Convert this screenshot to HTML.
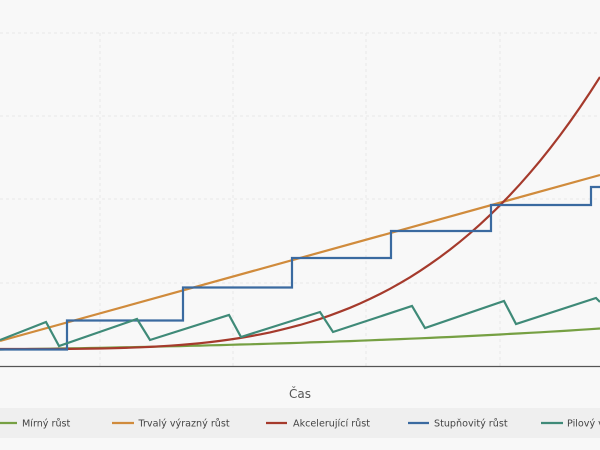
<!DOCTYPE html>
<html><head><meta charset="utf-8"><style>
html,body{margin:0;padding:0;background:#f8f8f8;}
svg{display:block;font-family:"DejaVu Sans","Liberation Sans",sans-serif;}
</style></head><body>
<svg width="600" height="450" viewBox="0 0 600 450">
<rect width="600" height="450" fill="#f8f8f8"/>
<g stroke="#e8e8e8" stroke-width="1" stroke-dasharray="3,3">
<line x1="100" y1="33" x2="100" y2="366"/>
<line x1="233" y1="33" x2="233" y2="366"/>
<line x1="366" y1="33" x2="366" y2="366"/>
<line x1="500" y1="33" x2="500" y2="366"/>
<line x1="0" y1="33" x2="600" y2="33"/>
<line x1="0" y1="116" x2="600" y2="116"/>
<line x1="0" y1="199" x2="600" y2="199"/>
<line x1="0" y1="283" x2="600" y2="283"/>
</g>
<line x1="0" y1="366.5" x2="600" y2="366.5" stroke="#555" stroke-width="1.3"/>
<g fill="none" stroke-width="2.2" stroke-linejoin="miter">
<path id="g" stroke="#76a043" d=""/>
<path stroke="#d08b3c" d="M0,341 L600,175"/>
<path id="r" stroke="#a53a2c" d=""/>
<path stroke="#3a6aa0" d="M0,349.5 H67 V320.5 H183 V287.5 H292 V258 H391 V231 H491 V205 H591 V187 H600"/>
<path stroke="#3f8a78" d="M0,340 L46,322 L59,346 L137,319 L150,340 L229,315 L241,337 L320,312 L333,332 L412,306 L425,328 L504,301 L516,324 L596,298 L600,302"/>
</g>
<text x="300" y="398" text-anchor="middle" font-size="12" fill="#555">Čas</text>
<rect x="0" y="408" width="600" height="30" fill="#efefef"/>
<g font-size="9.6" fill="#444">
<line x1="-4" y1="423" x2="17" y2="423" stroke="#76a043" stroke-width="2.2"/><text x="22" y="426.5">Mírný růst</text>
<line x1="112" y1="423" x2="134" y2="423" stroke="#d08b3c" stroke-width="2.2"/><text x="138.5" y="426.5">Trvalý výrazný růst</text>
<line x1="266" y1="423" x2="287" y2="423" stroke="#a53a2c" stroke-width="2.2"/><text x="293" y="426.5">Akcelerující růst</text>
<line x1="408" y1="423" x2="429" y2="423" stroke="#3a6aa0" stroke-width="2.2"/><text x="434" y="426.5">Stupňovitý růst</text>
<line x1="541" y1="423" x2="563" y2="423" stroke="#3f8a78" stroke-width="2.2"/><text x="567" y="426.5">Pilový vývoj</text>
</g>
<script>
var r="",g="";
for(var x=0;x<=600;x+=10){var t=x/600;
r+=(x?"L":"M")+x+","+(349-272*Math.pow(t,3.5)).toFixed(1);
g+=(x?"L":"M")+x+","+(349.5-21*(Math.exp(1.5*t)-1)/(Math.exp(1.5)-1)).toFixed(1);}
document.getElementById("r").setAttribute("d",r);
document.getElementById("g").setAttribute("d",g);
</script>
</svg>
</body></html>
